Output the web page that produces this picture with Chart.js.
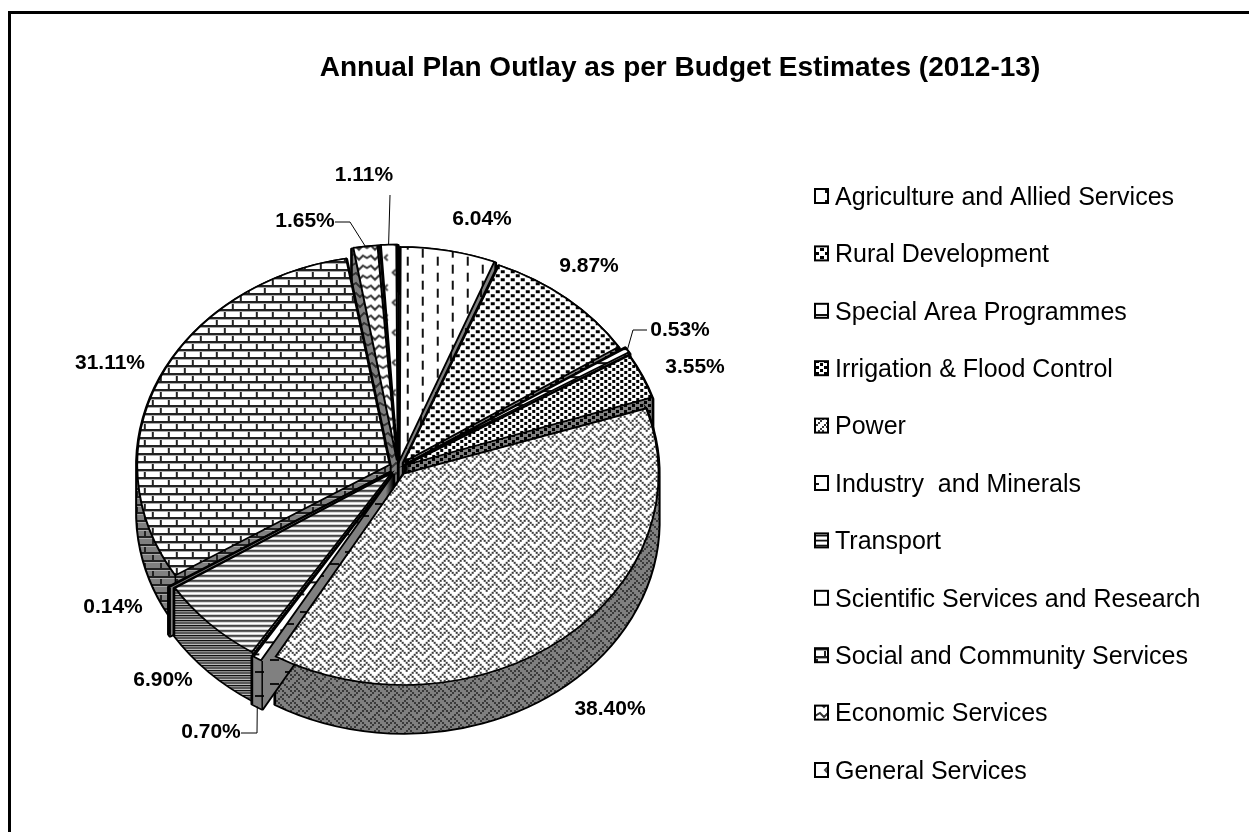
<!DOCTYPE html>
<html>
<head>
<meta charset="utf-8">
<title>Annual Plan Outlay</title>
<script src="https://cdn.jsdelivr.net/npm/chart.js@4/dist/chart.umd.min.js"></script>
<style>
    html, body { margin: 0; padding: 0; background: #fff; }
    #wrap { position: relative; width: 1249px; height: 832px; overflow: hidden; }
    #frame { position: absolute; left: 8px; top: 11px; width: 1400px; height: 1000px; border: 3px solid #000; box-sizing: border-box; }
    canvas { position: absolute; left: 0; top: 0; }
</style>
</head>
<body>
<div id="wrap">
    <div id="frame"></div>
    <canvas id="outlay" width="1249" height="832"></canvas>
</div>
<script>
const titleText = 'Annual Plan Outlay as per Budget Estimates (2012-13)';
const categories = [
    'Agriculture and Allied Services', 'Rural Development', 'Special Area Programmes',
    'Irrigation & Flood Control', 'Power', 'Industry  and Minerals', 'Transport',
    'Scientific Services and Research', 'Social and Community Services',
    'Economic Services', 'General Services'
];
const shares = [6.04, 9.87, 0.53, 3.55, 38.40, 0.70, 6.90, 0.14, 31.11, 1.65, 1.11];

// where each percentage sits on the page, and the leader path from the slice rim to it
const labelSpots = [[482, 219], [589, 266], [680, 330], [695, 367], [610, 709], [211, 732],
    [163, 680], [113, 607], [110, 363], [305, 221], [364, 175]];
const leaderPaths = { 2: [[633, 330], [647, 330]], 5: [[257, 733], [241, 733]],
    9: [[350, 222], [335, 222]], 10: [[390, 195]] };

const SQUASH = 0.829;    // vertical squeeze of the round pie
const DEPTH = 48;        // thickness of the slab in px
const RADIUS = 252;
const EXPLODE = 9;

const FONT = '"Liberation Sans", Arial, sans-serif';
const WALL_GRAY = '#808080';

// ink functions for the hatch fills, each paints one tile
function dashes(c) {
    c.fillStyle = '#111';
    c.fillRect(0, 0, 2, 9);
    c.fillRect(15, 8, 2, 9);
    c.fillRect(15, -8, 2, 9);
}
function dots(c) {
    c.fillStyle = '#000';
    c.fillRect(0, 0, 4, 3);
    c.fillRect(5, 4, 4, 3);
}
function rule(c) {
    c.fillStyle = '#111';
    c.fillRect(0, 6, 14, 2);
}
function checks(c) {
    c.fillStyle = '#000';
    c.fillRect(0, 0, 3, 3);
    c.fillRect(4, 3, 3, 3);
}
function weave(c) {
    // 8x8 weave bitmap doubled
    const rows = [0x88, 0x54, 0x22, 0x45, 0x88, 0x14, 0x22, 0x51];
    c.fillStyle = '#3a3a3a';
    rows.forEach((bits, y) => {
        for (let x = 0; x < 8; x++) {
            if (bits & (0x80 >> x)) c.fillRect(x * 2, y * 2, 2, 2);
        }
    });
}
function shortDashes(c) {
    c.fillStyle = '#111';
    c.fillRect(0, 3, 9, 2);
    c.fillRect(15, 15, 9, 2);
}
function stripes(c) {
    c.fillStyle = '#111';
    c.fillRect(0, 0, 5, 1);
    c.fillStyle = '#888';
    c.fillRect(0, 1, 5, 1);
    c.fillStyle = '#bbb';
    c.fillRect(0, 4, 5, 1);
}
function bricks(c) {
    c.fillStyle = '#222';
    c.fillRect(0, 0, 16, 2);
    c.fillRect(0, 8, 16, 2);
    c.fillRect(0, 0, 2, 8);
    c.fillRect(8, 8, 2, 8);
    c.fillStyle = '#aaa';
    c.fillRect(0, 2, 16, 1);
    c.fillRect(0, 10, 16, 1);
}
function waves(c) {
    c.strokeStyle = '#333';
    c.lineWidth = 2;
    c.beginPath();
    c.moveTo(-1, 6);
    c.lineTo(4, 3);
    c.lineTo(8, 7);
    c.lineTo(12, 3);
    c.lineTo(17, 6);
    c.stroke();
}
function carets(c) {
    c.strokeStyle = '#444';
    c.lineWidth = 2;
    c.beginPath();
    c.moveTo(4, 2);
    c.lineTo(1, 5);
    c.lineTo(4, 8);
    c.moveTo(12, 17);
    c.lineTo(9, 20);
    c.lineTo(12, 23);
    c.stroke();
}
const tiles = [
    [30, 16, dashes], [10, 8, dots], [14, 14, rule], [8, 6, checks], [16, 16, weave],
    [30, 24, shortDashes], [5, 5, stripes], [8, 8, null], [16, 16, bricks], [16, 10, waves], [16, 30, carets]
];

function makePattern(tile, bg, yScale) {
    const cv = document.createElement('canvas');
    cv.width = tile[0];
    cv.height = tile[1];
    const c = cv.getContext('2d');
    c.fillStyle = bg;
    c.fillRect(0, 0, tile[0], tile[1]);
    if (tile[2]) tile[2](c);
    const p = c.createPattern(cv, 'repeat');
    // the fills are painted under the squeeze, undo it so the tiles stay square on screen
    p.setTransform(new DOMMatrix().scale(1, yScale));
    return p;
}
const topFills = tiles.map(t => makePattern(t, '#fff', 1 / SQUASH));
const wallFills = tiles.map((t, i) => makePattern(t, i === 6 ? '#5a5a5a' : WALL_GRAY, 1 / SQUASH));
const keyFills = tiles.map(t => makePattern(t, '#fff', 1));

// the arc element moves a slice by offset/4 and grows thin slices a little
function sliceGeometry(arc) {
    const off = (arc.options.offset || 0) / 4;
    const mid = (arc.startAngle + arc.endAngle) / 2;
    const fix = 1 - Math.sin(Math.min(Math.PI, arc.circumference));
    return {
        mid: mid,
        cx: arc.x + Math.cos(mid) * off,
        cy: arc.y + Math.sin(mid) * off,
        r: arc.outerRadius + off * fix
    };
}

// sector outline in pie coordinates, pushed down by dy screen px
function addSector(ctx, arc, dy) {
    const g = sliceGeometry(arc);
    const cy = g.cy + dy / SQUASH;
    ctx.moveTo(g.cx, cy);
    ctx.arc(g.cx, cy, g.r, arc.startAngle, arc.endAngle);
    ctx.closePath();
}

const slab = {
    id: 'slab',
    afterLayout(chart) {
        // the heading is centred over the whole sheet, not over the pie
        chart.titleBlock.left += 282;
        chart.titleBlock.right += 282;
    },
    beforeDatasetDraw(chart) {
        const ctx = chart.ctx;
        const arcs = chart.getDatasetMeta(0).data;
        const a0 = arcs[0];
        ctx.save();
        ctx.translate(a0.x, a0.y);
        ctx.scale(1, SQUASH);
        ctx.translate(-a0.x, -a0.y);
        // walls go back to front, the tops are painted by the controller afterwards
        const order = arcs.map((a, i) => i).sort((p, q) => {
            return Math.sin(sliceGeometry(arcs[p]).mid) - Math.sin(sliceGeometry(arcs[q]).mid);
        });
        ctx.lineJoin = 'round';
        order.forEach(i => {
            const arc = arcs[i];
            const g = sliceGeometry(arc);
            ctx.beginPath();
            for (let dy = DEPTH; dy > 0; dy -= 1) addSector(ctx, arc, dy);
            // stroke first and fill over it, only the silhouette keeps its line
            ctx.strokeStyle = '#000';
            ctx.lineWidth = 4;
            ctx.stroke();
            ctx.fillStyle = wallFills[i];
            ctx.fill('nonzero');
            // corner edges of the cut faces
            ctx.beginPath();
            [arc.startAngle, arc.endAngle].forEach(ang => {
                const px = g.cx + Math.cos(ang) * g.r;
                const py = g.cy + Math.sin(ang) * g.r;
                ctx.moveTo(px, py);
                ctx.lineTo(px, py + DEPTH / SQUASH);
            });
            ctx.lineWidth = 1.5;
            ctx.stroke();
        });
    },
    afterDatasetDraw(chart) {
        chart.ctx.restore();
    },
    afterDraw(chart) {
        const ctx = chart.ctx;
        const arcs = chart.getDatasetMeta(0).data;
        ctx.save();
        ctx.font = 'bold 21px ' + FONT;
        ctx.fillStyle = '#000';
        ctx.textAlign = 'center';
        ctx.textBaseline = 'middle';
        shares.forEach((v, i) => {
            ctx.fillText(v.toFixed(2) + '%', labelSpots[i][0], labelSpots[i][1]);
        });
        // leader lines run from the slice rim to the label
        ctx.strokeStyle = '#000';
        ctx.lineWidth = 1;
        Object.keys(leaderPaths).forEach(k => {
            const arc = arcs[k];
            const g = sliceGeometry(arc);
            const rimDrop = k === '5' ? DEPTH : 0;
            ctx.beginPath();
            ctx.moveTo(g.cx + Math.cos(g.mid) * g.r,
                arc.y + (g.cy - arc.y + Math.sin(g.mid) * g.r) * SQUASH + rimDrop);
            leaderPaths[k].forEach(p => ctx.lineTo(p[0], p[1]));
            ctx.stroke();
        });

        // key down the right side
        ctx.font = '25px ' + FONT;
        ctx.textAlign = 'left';
        ctx.lineWidth = 2;
        categories.forEach((name, i) => {
            const y = 196 + i * 57.4;
            ctx.fillStyle = keyFills[i];
            ctx.fillRect(815, y - 7, 13, 14);
            ctx.strokeRect(815, y - 7, 13, 14);
            ctx.fillStyle = '#000';
            ctx.fillText(name, 835, y + 2);
        });
        ctx.restore();
    }
};

new Chart(document.getElementById('outlay'), {
    type: 'pie',
    data: {
        labels: categories,
        datasets: [{
            data: shares,
            backgroundColor: topFills,
            borderColor: '#000',
            borderWidth: 2,
            borderJoinStyle: 'miter',
            offset: EXPLODE * 4
        }]
    },
    plugins: [slab],
    options: {
        responsive: false,
        animation: false,
        radius: RADIUS,
        layout: { padding: { left: 0, right: 453, top: 28, bottom: 0 } },
        plugins: {
            tooltip: { enabled: false },
            legend: { display: false },
            title: {
                display: true,
                text: titleText,
                color: '#000',
                font: { family: FONT, size: 28, weight: 'bold' },
                padding: { top: 23, bottom: 19 }
            }
        }
    }
});
</script>
</body>
</html>
